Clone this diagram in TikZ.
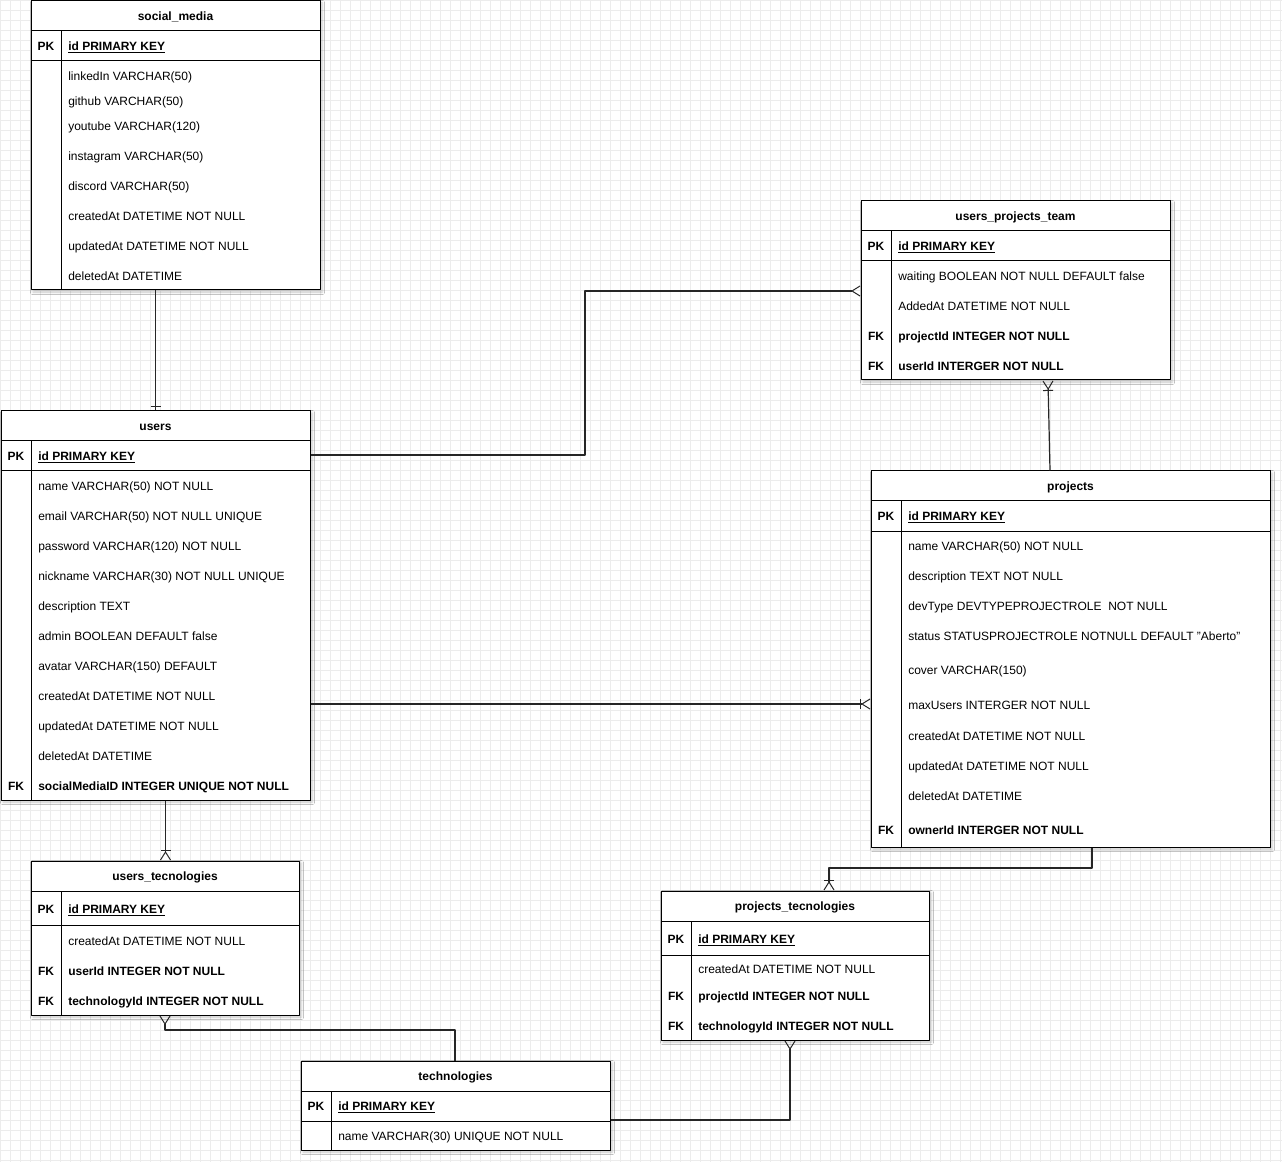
\documentclass[tikz,border=0pt]{standalone}
\usepackage{fontspec}
\setmainfont{Liberation Sans}
\usetikzlibrary{arrows.meta,fit,shadows.blur}
\begin{document}
\begin{tikzpicture}[x=0.75pt, y=-0.75pt, font=\fontsize{9}{11}\selectfont, line join=round,
	tbl/.style={draw, fill=white, inner sep=0pt, line width=0.75pt, blur shadow={shadow xshift=1.5pt, shadow yshift=-1.5pt, shadow opacity=22, shadow blur radius=2pt}},
	ttl/.style={font=\fontsize{9}{11}\selectfont\bfseries, inner sep=0pt, text height=6.5pt, text depth=0pt},
	fld/.style={anchor=west, inner sep=0pt, text height=6.5pt, text depth=0pt},
	key/.style={font=\fontsize{9}{11}\selectfont\bfseries, inner sep=0pt, text height=6.5pt, text depth=0pt},
	bfld/.style={fld, font=\fontsize{9}{11}\selectfont\bfseries},
	rel/.style={draw=black!85, line width=0.9pt},
	many/.style={-{Straight Barb[reversed, length=6pt, width=7.5pt, line width=0.75pt]}},
	onemany/.style={-{Bar[width=7.5pt, line width=0.75pt] Straight Barb[reversed, length=6pt, width=7.5pt, line width=0.75pt]}}]
	\useasboundingbox (0,0) rectangle (1282,1162);
	\fill[white] (0,0) rectangle (1282,1162);
	\draw[gray!15, line width=0.4pt, step=7.5pt] (0,0) grid (1282,1162);

	\node[tbl, fit={(31,1) (320,290)}] (sm) {};
	\draw[line width=0.75pt] (31,31) -- (320,31) (31,61) -- (320,61) (61,31) -- (61,290);
	\node[ttl] (smT) at (175.5,16) {social\_media};
	\node[key] (smK) at (46,46) {PK};
	\node[bfld] (smPK) at (68,46) {\underline{id PRIMARY KEY}};
	\node[fld] (sm1) at (68,76) {linkedIn VARCHAR(50)};
	\node[fld] (sm2) at (68,101) {github VARCHAR(50)};
	\node[fld] (sm3) at (68,126) {youtube VARCHAR(120)};
	\node[fld] (sm4) at (68,156) {instagram VARCHAR(50)};
	\node[fld] (sm5) at (68,186) {discord VARCHAR(50)};
	\node[fld] (sm6) at (68,216) {createdAt DATETIME NOT NULL};
	\node[fld] (sm7) at (68,246) {updatedAt DATETIME NOT NULL};
	\node[fld] (sm8) at (68,276) {deletedAt DATETIME};

	\node[tbl, fit={(1,411) (310,800)}] (users) {};
	\draw[line width=0.75pt] (1,441) -- (310,441) (1,471) -- (310,471) (31,441) -- (31,800);
	\node[ttl] (uT) at (155.5,426) {users};
	\node[key] (uK) at (16,456) {PK};
	\node[bfld] (uPK) at (38,456) {\underline{id PRIMARY KEY}};
	\node[fld] (u1) at (38,486) {name VARCHAR(50) NOT NULL};
	\node[fld] (u2) at (38,516) {email VARCHAR(50) NOT NULL UNIQUE};
	\node[fld] (u3) at (38,546) {password VARCHAR(120) NOT NULL};
	\node[fld] (u4) at (38,576) {nickname VARCHAR(30) NOT NULL UNIQUE};
	\node[fld] (u5) at (38,606) {description TEXT};
	\node[fld] (u6) at (38,636) {admin BOOLEAN DEFAULT false};
	\node[fld] (u7) at (38,666) {avatar VARCHAR(150) DEFAULT};
	\node[fld] (u8) at (38,696) {createdAt DATETIME NOT NULL};
	\node[fld] (u9) at (38,726) {updatedAt DATETIME NOT NULL};
	\node[fld] (u10) at (38,756) {deletedAt DATETIME};
	\node[key] (uF) at (16,786) {FK};
	\node[bfld] (u11) at (38,786) {socialMediaID INTEGER UNIQUE NOT NULL};

	\node[tbl, fit={(861,201) (1170,380)}] (upt) {};
	\draw[line width=0.75pt] (861,231) -- (1170,231) (861,261) -- (1170,261) (891,231) -- (891,380);
	\node[ttl] (uptT) at (1015.5,216) {users\_projects\_team};
	\node[key] (uptK) at (876,246) {PK};
	\node[bfld] (uptPK) at (898,246) {\underline{id PRIMARY KEY}};
	\node[fld] (upt1) at (898,276) {waiting BOOLEAN NOT NULL DEFAULT false};
	\node[fld] (upt2) at (898,306) {AddedAt DATETIME NOT NULL};
	\node[key] (uptF1) at (876,336) {FK};
	\node[bfld] (upt3) at (898,336) {projectId INTEGER NOT NULL};
	\node[key] (uptF2) at (876,366) {FK};
	\node[bfld] (upt4) at (898,366) {userId INTERGER NOT NULL};

	\node[tbl, fit={(871,471) (1270,847)}] (proj) {};
	\draw[line width=0.75pt] (871,501) -- (1270,501) (871,531) -- (1270,531) (901,501) -- (901,847);
	\node[ttl] (pT) at (1070.5,486) {projects};
	\node[key] (pK) at (886,516) {PK};
	\node[bfld] (pPK) at (908,516) {\underline{id PRIMARY KEY}};
	\node[fld] (p1) at (908,546) {name VARCHAR(50) NOT NULL};
	\node[fld] (p2) at (908,576) {description TEXT NOT NULL};
	\node[fld] (p3) at (908,606) {devType DEVTYPEPROJECTROLE\ \ NOT NULL};
	\node[fld] (p4) at (908,636) {status STATUSPROJECTROLE NOTNULL DEFAULT \symbol{34}Aberto\symbol{34}};
	\node[fld] (p5) at (908,670) {cover VARCHAR(150)};
	\node[fld] (p6) at (908,705) {maxUsers INTERGER NOT NULL};
	\node[fld] (p7) at (908,736) {createdAt DATETIME NOT NULL};
	\node[fld] (p8) at (908,766) {updatedAt DATETIME NOT NULL};
	\node[fld] (p9) at (908,796) {deletedAt DATETIME};
	\node[key] (pF) at (886,830) {FK};
	\node[bfld] (p10) at (908,830) {ownerId INTERGER NOT NULL};

	\node[tbl, fit={(31,861) (299,1015)}] (ut) {};
	\draw[line width=0.75pt] (31,891) -- (299,891) (31,925) -- (299,925) (61,891) -- (61,1015);
	\node[ttl] (utT) at (165,876) {users\_tecnologies};
	\node[key] (utK) at (46,909) {PK};
	\node[bfld] (utPK) at (68,909) {\underline{id PRIMARY KEY}};
	\node[fld] (ut1) at (68,941) {createdAt DATETIME NOT NULL};
	\node[key] (utF1) at (46,971) {FK};
	\node[bfld] (ut2) at (68,971) {userId INTEGER NOT NULL};
	\node[key] (utF2) at (46,1001) {FK};
	\node[bfld] (ut3) at (68,1001) {technologyId INTEGER NOT NULL};

	\node[tbl, fit={(661,891) (929,1040)}] (pt) {};
	\draw[line width=0.75pt] (661,921) -- (929,921) (661,955) -- (929,955) (691,921) -- (691,1040);
	\node[ttl] (ptT) at (795,906) {projects\_tecnologies};
	\node[key] (ptK) at (676,939) {PK};
	\node[bfld] (ptPK) at (698,939) {\underline{id PRIMARY KEY}};
	\node[fld] (pt1) at (698,969) {createdAt DATETIME NOT NULL};
	\node[key] (ptF1) at (676,996) {FK};
	\node[bfld] (pt2) at (698,996) {projectId INTEGER NOT NULL};
	\node[key] (ptF2) at (676,1026) {FK};
	\node[bfld] (pt3) at (698,1026) {technologyId INTEGER NOT NULL};

	\node[tbl, fit={(301,1061) (610,1150)}] (tech) {};
	\draw[line width=0.75pt] (301,1091) -- (610,1091) (301,1121) -- (610,1121) (331,1091) -- (331,1150);
	\node[ttl] (tT) at (455.5,1076) {technologies};
	\node[key] (tK) at (316,1106) {PK};
	\node[bfld] (tPK) at (338,1106) {\underline{id PRIMARY KEY}};
	\node[fld] (t1) at (338,1136) {name VARCHAR(30) UNIQUE NOT NULL};

	\draw[rel] (users.north |- sm.south) -- (users.north);
	\draw[rel] ([xshift=-3.75pt, yshift=3pt]users.north) -- ++(7.5pt,0);
	\draw[rel, many] (users.east |- 0,455) -| (585,373) |- (upt.west |- 0,291);
	\draw[rel, onemany] (proj.north -| 1050,0) -- (upt.south -| 1048,0);
	\draw[rel, onemany] (users.east |- 0,704) -- (proj.west |- 0,704);
	\draw[rel, onemany] (users.south -| 165.5,0) -- (ut.north -| 165.5,0);
	\draw[rel, onemany] (proj.south -| 1092,0) |- (960,868) -| (pt.north -| 829,0);
	\draw[rel, many] (tech.north -| 455,0) |- (300,1030) -| (ut.south -| 165,0);
	\draw[rel, many] (tech.east |- 0,1120) -| (pt.south -| 790,0);
\end{tikzpicture}
\end{document}
